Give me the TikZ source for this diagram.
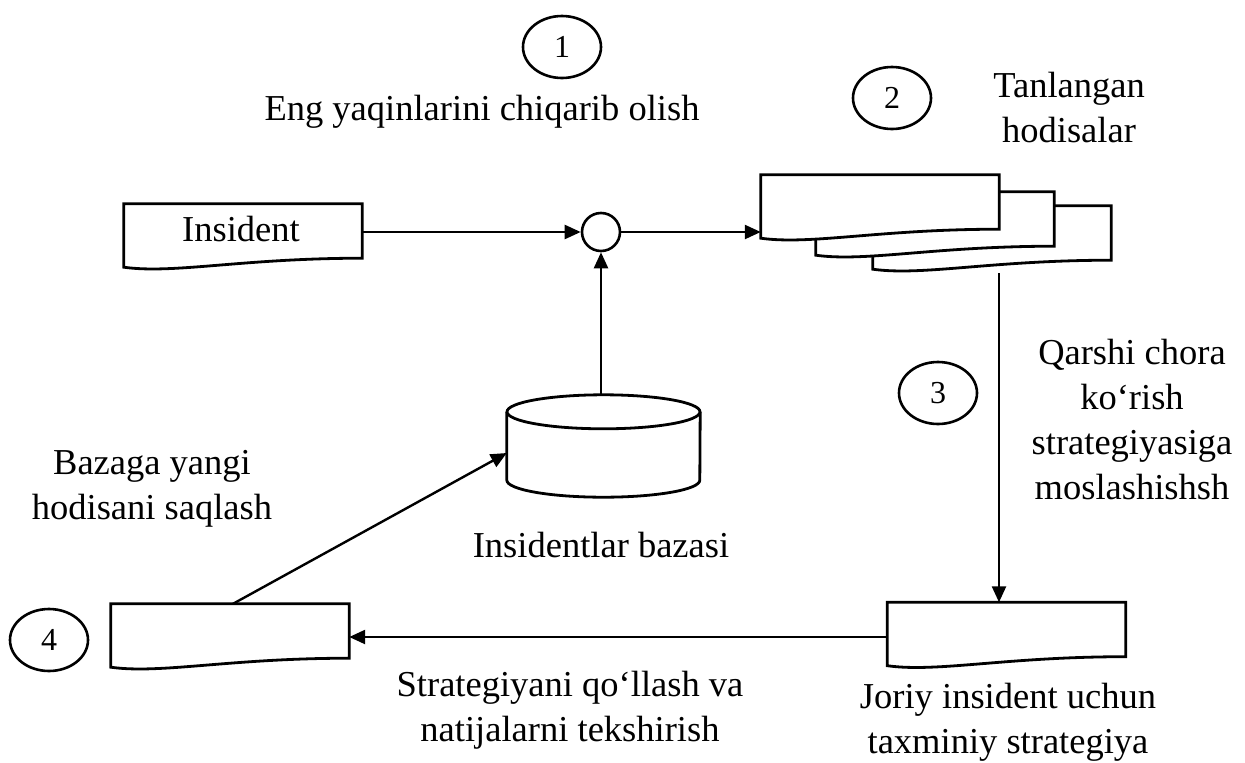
\documentclass[tikz,border=0pt]{standalone}
\usepackage{fontspec}
\setmainfont{Liberation Serif}
\usetikzlibrary{arrows.meta,shapes.geometric,calc}
% outline of a flowchart "document" symbol drawn around a named node
\newcommand\docpath[1]{%
  \draw[line, fill=white] (#1.north west) -- (#1.north east) -- ([yshift=9pt]#1.south east)
    .. controls ([xshift=-120pt,yshift=9pt]#1.south east) and ([xshift=50pt,yshift=-7pt]#1.south west) .. (#1.south west) -- cycle;}
\begin{document}
\begin{tikzpicture}[x=1pt,y=-1pt,
  line/.style={line width=2.8pt, line join=miter},
  conn/.style={line width=2.4pt, -{Triangle[length=16pt,width=14pt]}},
  doc/.style={minimum width=238pt, minimum height=63pt, inner sep=0pt},
  num/.style={ellipse, draw, line width=2.6pt, minimum width=78pt, minimum height=62pt,
    inner sep=0pt, font=\fontsize{32}{36}\selectfont},
  lbl/.style={font=\fontsize{36.5}{45}\selectfont, align=center, inner sep=0pt},
]
\useasboundingbox (0,0) rectangle (1245,763);

% document symbols
\node[doc] (ins) at (243,235.5) {};
\node[doc] (sel3) at (992,237.5) {};
\node[doc] (sel2) at (935,223.5) {};
\node[doc] (sel1) at (880,206.5) {};
\node[doc] (out) at (230,635.5) {};
\node[doc] (cur) at (1006.5,634) {};
\docpath{ins}
\docpath{sel3}
\docpath{sel2}
\docpath{sel1}
\docpath{out}
\docpath{cur}
\node[lbl] (insText) at (241,229) {Insident};

% junction
\node[circle, draw, line width=2.6pt, minimum size=38pt, inner sep=0pt] (circ) at (601,232) {};

% incident database (cylinder)
\node[minimum width=193pt, minimum height=102pt, inner sep=0pt] (db) at (603.5,446) {};
\draw[line, fill=white] ([yshift=-17pt]db.north west) -- ([yshift=17pt]db.south west)
  arc[start angle=180, end angle=360, x radius=96.5pt, y radius=17pt]
  -- ([yshift=-17pt]db.north east);
\draw[line] ([yshift=-17pt]db.north) ellipse [x radius=96.5pt, y radius=17pt];

% numbered markers
\node[num] (n1) at (562,47) {1};
\node[num] (n2) at (892,98) {2};
\node[num] (n3) at (938,393) {3};
\node[num] (n4) at (49,640) {4};

% connectors
\coordinate (dn) at (999,273);
\draw[conn] (ins.east |- circ.west) -- (circ.west);
\draw[conn] (circ.east) -- (circ.east -| sel1.west);
\draw[conn] (circ.south |- db.north) -- (circ.south);
\draw[conn] (dn) -- (dn |- cur.north);
\draw[conn] ([yshift=-3pt]cur.west) -- ([yshift=-3pt]cur.west -| out.east);
\draw[conn] ([xshift=3pt]out.north) -- ([yshift=-7pt]db.west);

% texts
\node[lbl] (t1) at (482,112) {Eng yaqinlarini chiqarib olish};
\node[lbl] (t2) at (1069,108) {Tanlangan\\hodisalar};
\node[lbl] (t3) at (1132,420) {Qarshi chora\\ko‘rish\\strategiyasiga\\moslashishsh};
\node[lbl] (t4) at (152,489) {Bazaga yangi\\hodisani saqlash};
\node[lbl] (t5) at (601,545) {Insidentlar bazasi};
\node[lbl] (t6) at (570,710) {Strategiyani qo‘llash va\\natijalarni tekshirish};
\node[lbl] (t7) at (1008,722) {Joriy insident uchun\\taxminiy strategiya};
\end{tikzpicture}
\end{document}
